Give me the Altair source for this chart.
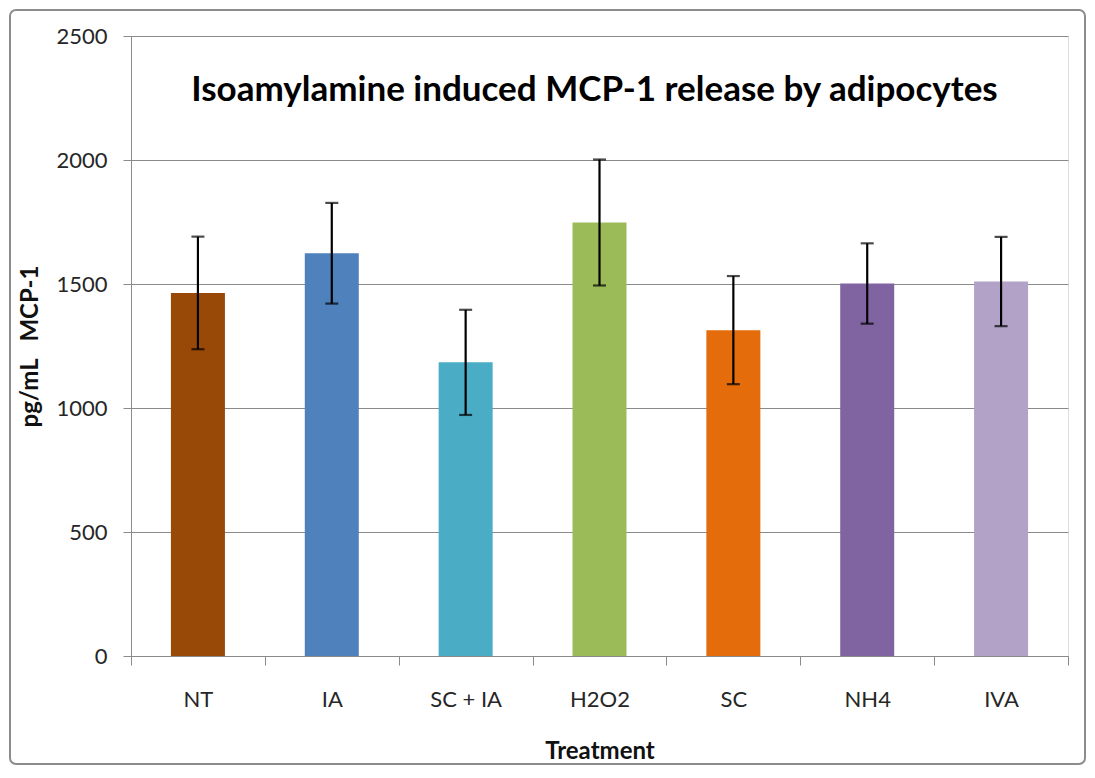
import altair as alt
import pandas as pd

treatments = ["NT", "IA", "SC + IA", "H2O2", "SC", "NH4", "IVA"]
means = [1464, 1624, 1184, 1748, 1314, 1502, 1510]
errors = [227, 203, 212, 254, 218, 162, 180]
colors = ["#984807", "#4F81BD", "#4BACC6", "#9BBB59", "#E46C0A", "#8064A2", "#B2A2C7"]
y_ticks = [0, 500, 1000, 1500, 2000, 2500]
title_text = "Isoamylamine induced MCP-1 release by adipocytes"

df = pd.DataFrame({"Treatment": treatments, "value": means, "err": errors})

W, H = 937, 620
PAD = {"left": 123, "top": 28, "right": 19, "bottom": 110}
GRID = "#8a8a8a"
FONT = "Lato"

x_scale = alt.Scale(paddingInner=0, paddingOuter=0)

x_enc = alt.X(
    "Treatment:N",
    sort=treatments,
    scale=x_scale,
    axis=alt.Axis(
        title="Treatment",
        labelAngle=0,
        tickBand="extent",
        tickSize=9,
        tickColor=GRID,
        domainColor=GRID,
        labelPadding=24,
        labelFontSize=22,
        labelFont=FONT,
        labelColor="#262626",
        titleFont=FONT,
        titleFontSize=24,
        titleFontWeight="bold",
        titleColor="#111111",
        titlePadding=29,
        grid=False,
    ),
)

y_scale = alt.Scale(domain=[0, 2500], nice=False)

bars = alt.Chart(df).mark_bar(size=54).encode(
    x=x_enc,
    y=alt.Y(
        "value:Q",
        scale=y_scale,
        axis=alt.Axis(
            title="pg/mL\u00a0\u00a0 MCP-1",
            values=y_ticks,
            format="d",
            tickSize=8,
            tickColor=GRID,
            domainColor=GRID,
            gridColor=GRID,
            gridWidth=1,
            labelPadding=16,
            labelFontSize=22,
            labelFont=FONT,
            labelColor="#262626",
            titleFont=FONT,
            titleFontSize=24,
            titleFontWeight="bold",
            titleColor="#111111",
            titlePadding=13,
        ),
    ),
    color=alt.Color("Treatment:N", sort=treatments,
                    scale=alt.Scale(domain=treatments, range=colors), legend=None),
)

base_err = alt.Chart(df).transform_calculate(
    lo="datum.value - datum.err", hi="datum.value + datum.err"
)

rules = base_err.mark_rule(color="black", strokeWidth=2.2).encode(
    x=alt.X("Treatment:N", sort=treatments, scale=x_scale),
    y=alt.Y("lo:Q", scale=y_scale),
    y2="hi:Q",
)
cap_lo = base_err.mark_tick(color="black", thickness=2.2, size=13).encode(
    x=alt.X("Treatment:N", sort=treatments, scale=x_scale),
    y=alt.Y("lo:Q", scale=y_scale),
)
cap_hi = base_err.mark_tick(color="black", thickness=2.2, size=13).encode(
    x=alt.X("Treatment:N", sort=treatments, scale=x_scale),
    y=alt.Y("hi:Q", scale=y_scale),
)

title_df = pd.DataFrame({"t": [title_text]})
title_mark = alt.Chart(title_df).mark_text(
    font=FONT, fontSize=35, fontWeight="bold", color="#000000",
    align="center", baseline="alphabetic",
).encode(
    text="t:N",
    x=alt.value(W / 2 - 5),
    y=alt.value(65),
)

border = alt.Chart(title_df).mark_rect(
    fill=None, stroke="#8c8c8c", strokeWidth=2, cornerRadius=6
).encode(
    x=alt.value(-121), x2=alt.value(W + PAD["right"] - 2),
    y=alt.value(-26), y2=alt.value(H + PAD["bottom"] - 2),
)

chart = alt.layer(bars, rules, cap_lo, cap_hi, title_mark, border).properties(
    width=W,
    height=H,
    padding=PAD,
    autosize=alt.AutoSizeParams(type="none"),
).configure_view(stroke=None).configure(background="white")

chart.save("out.html", embed_options={"renderer": "svg", "actions": False})
